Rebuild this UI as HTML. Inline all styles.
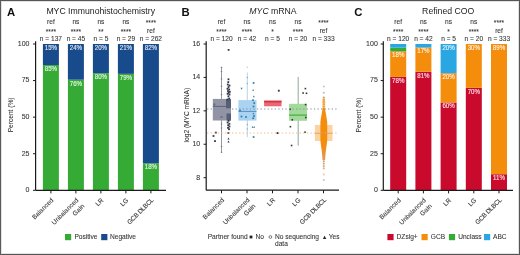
<!DOCTYPE html>
<html><head><meta charset="utf-8"><style>
html,body{margin:0;padding:0;background:#fff;}
body{width:520px;height:255px;overflow:hidden;}
svg{display:block;font-family:"Liberation Sans", sans-serif;will-change:transform;}
</style></head><body>
<svg width="520" height="255" viewBox="0 0 520 255">
<rect x="0" y="0" width="520" height="255" fill="#ffffff"/>
<text x="7.00" y="16.00" font-size="11.3" text-anchor="start" fill="#111111" font-weight="bold">A</text>
<text x="100.70" y="14.00" font-size="8.7" text-anchor="middle" fill="#222222" >MYC Immunohistochemistry</text>
<text x="50.90" y="24.00" font-size="6.6" text-anchor="middle" fill="#353535" stroke="#353535" stroke-width="0.08" >ref</text>
<text x="50.90" y="33.90" font-size="6.6" text-anchor="middle" fill="#353535" stroke="#353535" stroke-width="0.08" >****</text>
<text x="50.90" y="41.00" font-size="6.6" text-anchor="middle" fill="#353535" stroke="#353535" stroke-width="0.08" >n = 137</text>
<text x="75.90" y="24.00" font-size="6.6" text-anchor="middle" fill="#353535" stroke="#353535" stroke-width="0.08" >ns</text>
<text x="75.90" y="33.90" font-size="6.6" text-anchor="middle" fill="#353535" stroke="#353535" stroke-width="0.08" >****</text>
<text x="75.90" y="41.00" font-size="6.6" text-anchor="middle" fill="#353535" stroke="#353535" stroke-width="0.08" >n = 45</text>
<text x="100.90" y="24.00" font-size="6.6" text-anchor="middle" fill="#353535" stroke="#353535" stroke-width="0.08" >ns</text>
<text x="100.90" y="33.90" font-size="6.6" text-anchor="middle" fill="#353535" stroke="#353535" stroke-width="0.08" >**</text>
<text x="100.90" y="41.00" font-size="6.6" text-anchor="middle" fill="#353535" stroke="#353535" stroke-width="0.08" >n = 5</text>
<text x="125.90" y="24.00" font-size="6.6" text-anchor="middle" fill="#353535" stroke="#353535" stroke-width="0.08" >ns</text>
<text x="125.90" y="33.90" font-size="6.6" text-anchor="middle" fill="#353535" stroke="#353535" stroke-width="0.08" >****</text>
<text x="125.90" y="41.00" font-size="6.6" text-anchor="middle" fill="#353535" stroke="#353535" stroke-width="0.08" >n = 29</text>
<text x="150.90" y="25.40" font-size="6.6" text-anchor="middle" fill="#353535" stroke="#353535" stroke-width="0.08" >****</text>
<text x="150.90" y="32.50" font-size="6.6" text-anchor="middle" fill="#353535" stroke="#353535" stroke-width="0.08" >ref</text>
<text x="150.90" y="41.00" font-size="6.6" text-anchor="middle" fill="#353535" stroke="#353535" stroke-width="0.08" >n = 262</text>
<rect x="42.90" y="65.07" width="16.00" height="125.23" fill="#35ab36" />
<text transform="translate(50.90,70.97) scale(0.88,1)" font-size="7" text-anchor="middle" fill="#ffffff" stroke="#ffffff" stroke-width="0.15" opacity="0.88">85%</text>
<rect x="42.90" y="44.00" width="16.00" height="21.07" fill="#184b8c" />
<text transform="translate(50.90,49.90) scale(0.88,1)" font-size="7" text-anchor="middle" fill="#ffffff" stroke="#ffffff" stroke-width="0.15" opacity="0.88">15%</text>
<rect x="67.90" y="79.70" width="16.00" height="110.60" fill="#35ab36" />
<text transform="translate(75.90,85.60) scale(0.88,1)" font-size="7" text-anchor="middle" fill="#ffffff" stroke="#ffffff" stroke-width="0.15" opacity="0.88">76%</text>
<rect x="67.90" y="44.00" width="16.00" height="35.70" fill="#184b8c" />
<text transform="translate(75.90,49.90) scale(0.88,1)" font-size="7" text-anchor="middle" fill="#ffffff" stroke="#ffffff" stroke-width="0.15" opacity="0.88">24%</text>
<rect x="92.90" y="73.26" width="16.00" height="117.04" fill="#35ab36" />
<text transform="translate(100.90,79.16) scale(0.88,1)" font-size="7" text-anchor="middle" fill="#ffffff" stroke="#ffffff" stroke-width="0.15" opacity="0.88">80%</text>
<rect x="92.90" y="44.00" width="16.00" height="29.26" fill="#184b8c" />
<text transform="translate(100.90,49.90) scale(0.88,1)" font-size="7" text-anchor="middle" fill="#ffffff" stroke="#ffffff" stroke-width="0.15" opacity="0.88">20%</text>
<rect x="117.90" y="73.85" width="16.00" height="116.45" fill="#35ab36" />
<text transform="translate(125.90,79.75) scale(0.88,1)" font-size="7" text-anchor="middle" fill="#ffffff" stroke="#ffffff" stroke-width="0.15" opacity="0.88">79%</text>
<rect x="117.90" y="44.00" width="16.00" height="29.85" fill="#184b8c" />
<text transform="translate(125.90,49.90) scale(0.88,1)" font-size="7" text-anchor="middle" fill="#ffffff" stroke="#ffffff" stroke-width="0.15" opacity="0.88">21%</text>
<rect x="142.90" y="163.38" width="16.00" height="26.92" fill="#35ab36" />
<text transform="translate(150.90,169.28) scale(0.88,1)" font-size="7" text-anchor="middle" fill="#ffffff" stroke="#ffffff" stroke-width="0.15" opacity="0.88">18%</text>
<rect x="142.90" y="44.00" width="16.00" height="119.38" fill="#184b8c" />
<text transform="translate(150.90,49.90) scale(0.88,1)" font-size="7" text-anchor="middle" fill="#ffffff" stroke="#ffffff" stroke-width="0.15" opacity="0.88">82%</text>
<line x1="35.60" y1="41.20" x2="35.60" y2="190.30" stroke="#1a1a1a" stroke-width="1.2" />
<line x1="33.00" y1="190.30" x2="35.60" y2="190.30" stroke="#1a1a1a" stroke-width="1.0" />
<text x="29.50" y="192.20" font-size="7" text-anchor="end" fill="#353535" stroke="#353535" stroke-width="0.08" >0</text>
<line x1="33.00" y1="153.73" x2="35.60" y2="153.73" stroke="#1a1a1a" stroke-width="1.0" />
<text x="29.50" y="155.63" font-size="7" text-anchor="end" fill="#353535" stroke="#353535" stroke-width="0.08" >25</text>
<line x1="33.00" y1="117.15" x2="35.60" y2="117.15" stroke="#1a1a1a" stroke-width="1.0" />
<text x="29.50" y="119.05" font-size="7" text-anchor="end" fill="#353535" stroke="#353535" stroke-width="0.08" >50</text>
<line x1="33.00" y1="80.58" x2="35.60" y2="80.58" stroke="#1a1a1a" stroke-width="1.0" />
<text x="29.50" y="82.48" font-size="7" text-anchor="end" fill="#353535" stroke="#353535" stroke-width="0.08" >75</text>
<line x1="33.00" y1="44.00" x2="35.60" y2="44.00" stroke="#1a1a1a" stroke-width="1.0" />
<text x="29.50" y="45.90" font-size="7" text-anchor="end" fill="#353535" stroke="#353535" stroke-width="0.08" >100</text>
<line x1="35.60" y1="190.30" x2="166.00" y2="190.30" stroke="#1a1a1a" stroke-width="1.2" />
<line x1="50.90" y1="190.30" x2="50.90" y2="193.40" stroke="#1a1a1a" stroke-width="1.0" />
<line x1="75.90" y1="190.30" x2="75.90" y2="193.40" stroke="#1a1a1a" stroke-width="1.0" />
<line x1="100.90" y1="190.30" x2="100.90" y2="193.40" stroke="#1a1a1a" stroke-width="1.0" />
<line x1="125.90" y1="190.30" x2="125.90" y2="193.40" stroke="#1a1a1a" stroke-width="1.0" />
<line x1="150.90" y1="190.30" x2="150.90" y2="193.40" stroke="#1a1a1a" stroke-width="1.0" />
<text transform="translate(53.90,200.60) rotate(-45)" font-size="6.5" text-anchor="end" fill="#353535" stroke="#353535" stroke-width="0.08">Balanced</text>
<text transform="translate(78.90,200.60) rotate(-45)" font-size="6.5" text-anchor="end" fill="#353535" stroke="#353535" stroke-width="0.08"><tspan x="0" y="0">Unbalanced</tspan><tspan x="0" y="8.4">Gain</tspan></text>
<text transform="translate(103.90,200.60) rotate(-45)" font-size="6.5" text-anchor="end" fill="#353535" stroke="#353535" stroke-width="0.08">LR</text>
<text transform="translate(128.90,200.60) rotate(-45)" font-size="6.5" text-anchor="end" fill="#353535" stroke="#353535" stroke-width="0.08">LG</text>
<text transform="translate(153.90,200.60) rotate(-45)" font-size="6.5" text-anchor="end" fill="#353535" stroke="#353535" stroke-width="0.08" letter-spacing="-0.3">GCB DLBCL</text>
<text transform="translate(13.40,114.90) rotate(-90)" font-size="6.6" text-anchor="middle" fill="#353535" stroke="#353535" stroke-width="0.08">Percent (%)</text>
<rect x="65.00" y="234.00" width="6.20" height="6.20" fill="#35ab36" />
<text x="74.40" y="239.30" font-size="6.6" text-anchor="start" fill="#353535" stroke="#353535" stroke-width="0.08" >Positive</text>
<rect x="101.20" y="234.00" width="6.20" height="6.20" fill="#184b8c" />
<text x="110.00" y="239.30" font-size="6.6" text-anchor="start" fill="#353535" stroke="#353535" stroke-width="0.08" >Negative</text>
<text x="354.20" y="16.00" font-size="11.3" text-anchor="start" fill="#111111" font-weight="bold">C</text>
<text x="448.20" y="14.00" font-size="8.7" text-anchor="middle" fill="#222222" >Refined COO</text>
<text x="398.20" y="24.00" font-size="6.6" text-anchor="middle" fill="#353535" stroke="#353535" stroke-width="0.08" >ref</text>
<text x="398.20" y="33.90" font-size="6.6" text-anchor="middle" fill="#353535" stroke="#353535" stroke-width="0.08" >****</text>
<text x="398.20" y="41.00" font-size="6.6" text-anchor="middle" fill="#353535" stroke="#353535" stroke-width="0.08" >n = 120</text>
<text x="423.40" y="24.00" font-size="6.6" text-anchor="middle" fill="#353535" stroke="#353535" stroke-width="0.08" >ns</text>
<text x="423.40" y="33.90" font-size="6.6" text-anchor="middle" fill="#353535" stroke="#353535" stroke-width="0.08" >****</text>
<text x="423.40" y="41.00" font-size="6.6" text-anchor="middle" fill="#353535" stroke="#353535" stroke-width="0.08" >n = 42</text>
<text x="448.60" y="24.00" font-size="6.6" text-anchor="middle" fill="#353535" stroke="#353535" stroke-width="0.08" >ns</text>
<text x="448.60" y="33.90" font-size="6.6" text-anchor="middle" fill="#353535" stroke="#353535" stroke-width="0.08" >*</text>
<text x="448.60" y="41.00" font-size="6.6" text-anchor="middle" fill="#353535" stroke="#353535" stroke-width="0.08" >n = 5</text>
<text x="473.80" y="24.00" font-size="6.6" text-anchor="middle" fill="#353535" stroke="#353535" stroke-width="0.08" >ns</text>
<text x="473.80" y="33.90" font-size="6.6" text-anchor="middle" fill="#353535" stroke="#353535" stroke-width="0.08" >****</text>
<text x="473.80" y="41.00" font-size="6.6" text-anchor="middle" fill="#353535" stroke="#353535" stroke-width="0.08" >n = 20</text>
<text x="499.00" y="25.40" font-size="6.6" text-anchor="middle" fill="#353535" stroke="#353535" stroke-width="0.08" >****</text>
<text x="499.00" y="32.50" font-size="6.6" text-anchor="middle" fill="#353535" stroke="#353535" stroke-width="0.08" >ref</text>
<text x="499.00" y="41.00" font-size="6.6" text-anchor="middle" fill="#353535" stroke="#353535" stroke-width="0.08" >n = 333</text>
<rect x="390.20" y="76.92" width="16.00" height="113.38" fill="#c90a2c" />
<text transform="translate(398.20,82.82) scale(0.88,1)" font-size="7" text-anchor="middle" fill="#ffffff" stroke="#ffffff" stroke-width="0.15" opacity="0.88">78%</text>
<rect x="390.20" y="51.31" width="16.00" height="25.60" fill="#f48c0c" />
<text transform="translate(398.20,57.21) scale(0.88,1)" font-size="7" text-anchor="middle" fill="#ffffff" stroke="#ffffff" stroke-width="0.15" opacity="0.88">18%</text>
<rect x="390.20" y="47.66" width="16.00" height="3.66" fill="#35ab36" />
<rect x="390.20" y="44.00" width="16.00" height="3.66" fill="#2aa6e2" />
<rect x="415.40" y="71.80" width="16.00" height="118.50" fill="#c90a2c" />
<text transform="translate(423.40,77.70) scale(0.88,1)" font-size="7" text-anchor="middle" fill="#ffffff" stroke="#ffffff" stroke-width="0.15" opacity="0.88">81%</text>
<rect x="415.40" y="47.51" width="16.00" height="24.29" fill="#f48c0c" />
<text transform="translate(423.40,53.41) scale(0.88,1)" font-size="7" text-anchor="middle" fill="#ffffff" stroke="#ffffff" stroke-width="0.15" opacity="0.88">17%</text>
<rect x="415.40" y="44.00" width="16.00" height="3.51" fill="#2aa6e2" />
<rect x="440.60" y="102.52" width="16.00" height="87.78" fill="#c90a2c" />
<text transform="translate(448.60,108.42) scale(0.88,1)" font-size="7" text-anchor="middle" fill="#ffffff" stroke="#ffffff" stroke-width="0.15" opacity="0.88">60%</text>
<rect x="440.60" y="73.26" width="16.00" height="29.26" fill="#f48c0c" />
<text transform="translate(448.60,79.16) scale(0.88,1)" font-size="7" text-anchor="middle" fill="#ffffff" stroke="#ffffff" stroke-width="0.15" opacity="0.88">20%</text>
<rect x="440.60" y="44.00" width="16.00" height="29.26" fill="#2aa6e2" />
<text transform="translate(448.60,49.90) scale(0.88,1)" font-size="7" text-anchor="middle" fill="#ffffff" stroke="#ffffff" stroke-width="0.15" opacity="0.88">20%</text>
<rect x="465.80" y="87.89" width="16.00" height="102.41" fill="#c90a2c" />
<text transform="translate(473.80,93.79) scale(0.88,1)" font-size="7" text-anchor="middle" fill="#ffffff" stroke="#ffffff" stroke-width="0.15" opacity="0.88">70%</text>
<rect x="465.80" y="44.00" width="16.00" height="43.89" fill="#f48c0c" />
<text transform="translate(473.80,49.90) scale(0.88,1)" font-size="7" text-anchor="middle" fill="#ffffff" stroke="#ffffff" stroke-width="0.15" opacity="0.88">30%</text>
<rect x="491.00" y="174.21" width="16.00" height="16.09" fill="#c90a2c" />
<text transform="translate(499.00,180.11) scale(0.88,1)" font-size="7" text-anchor="middle" fill="#ffffff" stroke="#ffffff" stroke-width="0.15" opacity="0.88">11%</text>
<rect x="491.00" y="44.00" width="16.00" height="130.21" fill="#f48c0c" />
<text transform="translate(499.00,49.90) scale(0.88,1)" font-size="7" text-anchor="middle" fill="#ffffff" stroke="#ffffff" stroke-width="0.15" opacity="0.88">89%</text>
<line x1="383.30" y1="41.20" x2="383.30" y2="190.30" stroke="#1a1a1a" stroke-width="1.2" />
<line x1="380.70" y1="190.30" x2="383.30" y2="190.30" stroke="#1a1a1a" stroke-width="1.0" />
<text x="377.80" y="192.20" font-size="7" text-anchor="end" fill="#353535" stroke="#353535" stroke-width="0.08" >0</text>
<line x1="380.70" y1="153.73" x2="383.30" y2="153.73" stroke="#1a1a1a" stroke-width="1.0" />
<text x="377.80" y="155.63" font-size="7" text-anchor="end" fill="#353535" stroke="#353535" stroke-width="0.08" >25</text>
<line x1="380.70" y1="117.15" x2="383.30" y2="117.15" stroke="#1a1a1a" stroke-width="1.0" />
<text x="377.80" y="119.05" font-size="7" text-anchor="end" fill="#353535" stroke="#353535" stroke-width="0.08" >50</text>
<line x1="380.70" y1="80.58" x2="383.30" y2="80.58" stroke="#1a1a1a" stroke-width="1.0" />
<text x="377.80" y="82.48" font-size="7" text-anchor="end" fill="#353535" stroke="#353535" stroke-width="0.08" >75</text>
<line x1="380.70" y1="44.00" x2="383.30" y2="44.00" stroke="#1a1a1a" stroke-width="1.0" />
<text x="377.80" y="45.90" font-size="7" text-anchor="end" fill="#353535" stroke="#353535" stroke-width="0.08" >100</text>
<line x1="383.30" y1="190.30" x2="513.00" y2="190.30" stroke="#1a1a1a" stroke-width="1.2" />
<line x1="398.20" y1="190.30" x2="398.20" y2="193.40" stroke="#1a1a1a" stroke-width="1.0" />
<line x1="423.40" y1="190.30" x2="423.40" y2="193.40" stroke="#1a1a1a" stroke-width="1.0" />
<line x1="448.60" y1="190.30" x2="448.60" y2="193.40" stroke="#1a1a1a" stroke-width="1.0" />
<line x1="473.80" y1="190.30" x2="473.80" y2="193.40" stroke="#1a1a1a" stroke-width="1.0" />
<line x1="499.00" y1="190.30" x2="499.00" y2="193.40" stroke="#1a1a1a" stroke-width="1.0" />
<text transform="translate(401.20,200.60) rotate(-45)" font-size="6.5" text-anchor="end" fill="#353535" stroke="#353535" stroke-width="0.08">Balanced</text>
<text transform="translate(426.40,200.60) rotate(-45)" font-size="6.5" text-anchor="end" fill="#353535" stroke="#353535" stroke-width="0.08"><tspan x="0" y="0">Unbalanced</tspan><tspan x="0" y="8.4">Gain</tspan></text>
<text transform="translate(451.60,200.60) rotate(-45)" font-size="6.5" text-anchor="end" fill="#353535" stroke="#353535" stroke-width="0.08">LR</text>
<text transform="translate(476.80,200.60) rotate(-45)" font-size="6.5" text-anchor="end" fill="#353535" stroke="#353535" stroke-width="0.08">LG</text>
<text transform="translate(502.00,200.60) rotate(-45)" font-size="6.5" text-anchor="end" fill="#353535" stroke="#353535" stroke-width="0.08" letter-spacing="-0.3">GCB DLBCL</text>
<text transform="translate(361.40,115.00) rotate(-90)" font-size="6.6" text-anchor="middle" fill="#353535" stroke="#353535" stroke-width="0.08">Percent (%)</text>
<rect x="387.40" y="234.00" width="6.20" height="6.20" fill="#c90a2c" />
<text x="396.60" y="239.30" font-size="6.6" text-anchor="start" fill="#353535" stroke="#353535" stroke-width="0.08" >DZsig+</text>
<rect x="421.50" y="234.00" width="6.20" height="6.20" fill="#f48c0c" />
<text x="430.80" y="239.30" font-size="6.6" text-anchor="start" fill="#353535" stroke="#353535" stroke-width="0.08" >GCB</text>
<rect x="448.90" y="234.00" width="6.20" height="6.20" fill="#35ab36" />
<text x="458.20" y="239.30" font-size="6.6" text-anchor="start" fill="#353535" stroke="#353535" stroke-width="0.08" >Unclass</text>
<rect x="484.00" y="234.00" width="6.20" height="6.20" fill="#2aa6e2" />
<text x="493.00" y="239.30" font-size="6.6" text-anchor="start" fill="#353535" stroke="#353535" stroke-width="0.08" >ABC</text>
<text x="181.40" y="16.00" font-size="11.3" text-anchor="start" fill="#111111" font-weight="bold">B</text>
<text x="273" y="14" font-size="8.7" text-anchor="middle" fill="#222222"><tspan font-style="italic">MYC</tspan> mRNA</text>
<text x="221.50" y="24.00" font-size="6.6" text-anchor="middle" fill="#353535" stroke="#353535" stroke-width="0.08" >ref</text>
<text x="221.50" y="33.90" font-size="6.6" text-anchor="middle" fill="#353535" stroke="#353535" stroke-width="0.08" >****</text>
<text x="221.50" y="41.00" font-size="6.6" text-anchor="middle" fill="#353535" stroke="#353535" stroke-width="0.08" >n = 120</text>
<text x="247.00" y="24.00" font-size="6.6" text-anchor="middle" fill="#353535" stroke="#353535" stroke-width="0.08" >ns</text>
<text x="247.00" y="33.90" font-size="6.6" text-anchor="middle" fill="#353535" stroke="#353535" stroke-width="0.08" >****</text>
<text x="247.00" y="41.00" font-size="6.6" text-anchor="middle" fill="#353535" stroke="#353535" stroke-width="0.08" >n = 42</text>
<text x="272.50" y="24.00" font-size="6.6" text-anchor="middle" fill="#353535" stroke="#353535" stroke-width="0.08" >ns</text>
<text x="272.50" y="33.90" font-size="6.6" text-anchor="middle" fill="#353535" stroke="#353535" stroke-width="0.08" >*</text>
<text x="272.50" y="41.00" font-size="6.6" text-anchor="middle" fill="#353535" stroke="#353535" stroke-width="0.08" >n = 5</text>
<text x="298.00" y="24.00" font-size="6.6" text-anchor="middle" fill="#353535" stroke="#353535" stroke-width="0.08" >ns</text>
<text x="298.00" y="33.90" font-size="6.6" text-anchor="middle" fill="#353535" stroke="#353535" stroke-width="0.08" >****</text>
<text x="298.00" y="41.00" font-size="6.6" text-anchor="middle" fill="#353535" stroke="#353535" stroke-width="0.08" >n = 20</text>
<text x="323.50" y="25.40" font-size="6.6" text-anchor="middle" fill="#353535" stroke="#353535" stroke-width="0.08" >****</text>
<text x="323.50" y="32.50" font-size="6.6" text-anchor="middle" fill="#353535" stroke="#353535" stroke-width="0.08" >ref</text>
<text x="323.50" y="41.00" font-size="6.6" text-anchor="middle" fill="#353535" stroke="#353535" stroke-width="0.08" >n = 333</text>
<line x1="206.20" y1="41.20" x2="206.20" y2="190.20" stroke="#1a1a1a" stroke-width="1.2" />
<line x1="203.60" y1="177.68" x2="206.20" y2="177.68" stroke="#1a1a1a" stroke-width="1.0" />
<text x="200.20" y="179.58" font-size="7" text-anchor="end" fill="#353535" stroke="#353535" stroke-width="0.08" >8</text>
<line x1="203.60" y1="144.26" x2="206.20" y2="144.26" stroke="#1a1a1a" stroke-width="1.0" />
<text x="200.20" y="146.16" font-size="7" text-anchor="end" fill="#353535" stroke="#353535" stroke-width="0.08" >10</text>
<line x1="203.60" y1="110.84" x2="206.20" y2="110.84" stroke="#1a1a1a" stroke-width="1.0" />
<text x="200.20" y="112.74" font-size="7" text-anchor="end" fill="#353535" stroke="#353535" stroke-width="0.08" >12</text>
<line x1="203.60" y1="77.42" x2="206.20" y2="77.42" stroke="#1a1a1a" stroke-width="1.0" />
<text x="200.20" y="79.32" font-size="7" text-anchor="end" fill="#353535" stroke="#353535" stroke-width="0.08" >14</text>
<line x1="203.60" y1="44.00" x2="206.20" y2="44.00" stroke="#1a1a1a" stroke-width="1.0" />
<text x="200.20" y="45.90" font-size="7" text-anchor="end" fill="#353535" stroke="#353535" stroke-width="0.08" >16</text>
<line x1="206.10" y1="190.20" x2="339.00" y2="190.20" stroke="#1a1a1a" stroke-width="1.2" />
<line x1="221.50" y1="190.20" x2="221.50" y2="193.30" stroke="#1a1a1a" stroke-width="1.0" />
<line x1="247.00" y1="190.20" x2="247.00" y2="193.30" stroke="#1a1a1a" stroke-width="1.0" />
<line x1="272.50" y1="190.20" x2="272.50" y2="193.30" stroke="#1a1a1a" stroke-width="1.0" />
<line x1="298.00" y1="190.20" x2="298.00" y2="193.30" stroke="#1a1a1a" stroke-width="1.0" />
<line x1="323.50" y1="190.20" x2="323.50" y2="193.30" stroke="#1a1a1a" stroke-width="1.0" />
<text transform="translate(224.50,200.50) rotate(-45)" font-size="6.5" text-anchor="end" fill="#353535" stroke="#353535" stroke-width="0.08">Balanced</text>
<text transform="translate(250.00,200.50) rotate(-45)" font-size="6.5" text-anchor="end" fill="#353535" stroke="#353535" stroke-width="0.08"><tspan x="0" y="0">Unbalanced</tspan><tspan x="0" y="8.4">Gain</tspan></text>
<text transform="translate(275.50,200.50) rotate(-45)" font-size="6.5" text-anchor="end" fill="#353535" stroke="#353535" stroke-width="0.08">LR</text>
<text transform="translate(301.00,200.50) rotate(-45)" font-size="6.5" text-anchor="end" fill="#353535" stroke="#353535" stroke-width="0.08">LG</text>
<text transform="translate(326.50,200.50) rotate(-45)" font-size="6.5" text-anchor="end" fill="#353535" stroke="#353535" stroke-width="0.08" letter-spacing="-0.3">GCB DLBCL</text>
<text transform="translate(188.80,115.10) rotate(-90)" font-size="6.6" text-anchor="middle" fill="#353535" stroke="#353535" stroke-width="0.08">log2 (MYC mRNA)</text>
<line x1="221.50" y1="66.80" x2="221.50" y2="152.70" stroke="#8a8d98" stroke-width="0.9" />
<circle cx="221.50" cy="67.50" r="0.80" fill="#7a7d88"/>
<circle cx="221.50" cy="71.50" r="0.80" fill="#7a7d88"/>
<circle cx="221.50" cy="79.00" r="0.80" fill="#7a7d88"/>
<circle cx="221.50" cy="86.30" r="0.80" fill="#7a7d88"/>
<circle cx="221.50" cy="94.60" r="0.80" fill="#7a7d88"/>
<circle cx="221.50" cy="124.00" r="0.80" fill="#7a7d88"/>
<circle cx="221.50" cy="128.00" r="0.80" fill="#7a7d88"/>
<circle cx="221.50" cy="146.50" r="0.80" fill="#7a7d88"/>
<circle cx="221.50" cy="152.30" r="0.80" fill="#7a7d88"/>
<rect x="212.80" y="98.90" width="18.20" height="21.60" fill="#9294a6" />
<rect x="226.00" y="99.30" width="5.00" height="9.00" fill="#4c566c" opacity="0.85"/>
<rect x="226.50" y="113.50" width="4.50" height="7.00" fill="#4c566c" opacity="0.85"/>
<rect x="213.50" y="103.50" width="1.80" height="2.00" fill="#4c566c" opacity="0.7"/>
<rect x="220.00" y="116.00" width="3.00" height="2.00" fill="#6c7084" opacity="0.7"/>
<line x1="212.80" y1="106.40" x2="226.00" y2="106.40" stroke="#505670" stroke-width="0.8" />
<rect x="227.70" y="49.00" width="1.80" height="1.80" fill="#2f3749"/>
<rect x="227.60" y="78.40" width="1.80" height="1.80" fill="#2f3749"/>
<rect x="227.40" y="81.20" width="1.80" height="1.80" fill="#2f3749"/>
<rect x="226.90" y="83.60" width="1.80" height="1.80" fill="#2f3749"/>
<rect x="228.60" y="84.60" width="1.80" height="1.80" fill="#2f3749"/>
<rect x="227.60" y="86.10" width="1.80" height="1.80" fill="#2f3749"/>
<rect x="226.60" y="87.90" width="1.80" height="1.80" fill="#2f3749"/>
<rect x="228.30" y="88.60" width="1.80" height="1.80" fill="#2f3749"/>
<rect x="227.10" y="90.10" width="1.80" height="1.80" fill="#2f3749"/>
<rect x="228.90" y="90.90" width="1.80" height="1.80" fill="#2f3749"/>
<rect x="227.70" y="91.90" width="1.80" height="1.80" fill="#2f3749"/>
<rect x="226.70" y="92.90" width="1.80" height="1.80" fill="#2f3749"/>
<rect x="228.60" y="93.60" width="1.80" height="1.80" fill="#2f3749"/>
<rect x="227.50" y="95.40" width="1.80" height="1.80" fill="#2f3749"/>
<rect x="228.30" y="97.60" width="1.80" height="1.80" fill="#2f3749"/>
<rect x="226.70" y="98.60" width="1.80" height="1.80" fill="#2f3749"/>
<rect x="227.70" y="119.90" width="1.80" height="1.80" fill="#2f3749"/>
<rect x="226.70" y="121.60" width="1.80" height="1.80" fill="#2f3749"/>
<rect x="228.50" y="122.90" width="1.80" height="1.80" fill="#2f3749"/>
<rect x="227.30" y="124.30" width="1.80" height="1.80" fill="#2f3749"/>
<rect x="228.60" y="125.60" width="1.80" height="1.80" fill="#2f3749"/>
<rect x="227.10" y="126.90" width="1.80" height="1.80" fill="#2f3749"/>
<rect x="228.10" y="128.30" width="1.80" height="1.80" fill="#2f3749"/>
<rect x="227.50" y="132.10" width="1.80" height="1.80" fill="#2f3749"/>
<path d="M227.42,139.50 L228.50,137.52 L229.58,139.50 Z" fill="#2f3749"/>
<path d="M227.42,142.50 L228.50,140.52 L229.58,142.50 Z" fill="#2f3749"/>
<rect x="214.90" y="131.70" width="1.80" height="1.80" fill="#2f3749"/>
<rect x="212.60" y="135.10" width="1.80" height="1.80" fill="#2f3749"/>
<rect x="214.10" y="140.20" width="1.80" height="1.80" fill="#2f3749"/>
<line x1="247.30" y1="72.50" x2="247.30" y2="137.20" stroke="#a4c8e2" stroke-width="0.8" />
<circle cx="247.30" cy="67.20" r="0.80" fill="#c0ccd8"/>
<circle cx="247.30" cy="77.50" r="0.75" fill="#86b2cc"/>
<circle cx="247.30" cy="83.50" r="0.75" fill="#86b2cc"/>
<circle cx="247.30" cy="124.50" r="0.75" fill="#86b2cc"/>
<circle cx="247.30" cy="129.00" r="0.75" fill="#86b2cc"/>
<rect x="238.40" y="100.10" width="18.10" height="20.50" fill="#a9d3f1" />
<line x1="238.40" y1="111.40" x2="256.50" y2="111.40" stroke="#3a78b8" stroke-width="0.75" />
<path d="M240.58,87.85 L241.60,89.72 L242.62,87.85 Z" fill="#2f7aa8"/>
<rect x="252.75" y="82.15" width="1.70" height="1.70" fill="#2f7aa8"/>
<path d="M252.18,90.85 L253.20,88.98 L254.22,90.85 Z" fill="#2f7aa8"/>
<path d="M252.78,97.35 L253.80,95.48 L254.82,97.35 Z" fill="#2f7aa8"/>
<rect x="252.15" y="99.35" width="1.70" height="1.70" fill="#2f7aa8"/>
<rect x="253.35" y="102.15" width="1.70" height="1.70" fill="#2f7aa8"/>
<rect x="252.65" y="105.65" width="1.70" height="1.70" fill="#2f7aa8"/>
<rect x="239.15" y="109.65" width="1.70" height="1.70" fill="#2f7aa8"/>
<path d="M252.38,114.35 L253.40,112.48 L254.42,114.35 Z" fill="#2f7aa8"/>
<rect x="253.15" y="115.15" width="1.70" height="1.70" fill="#2f7aa8"/>
<rect x="252.35" y="117.35" width="1.70" height="1.70" fill="#2f7aa8"/>
<rect x="240.65" y="115.65" width="1.70" height="1.70" fill="#2f7aa8"/>
<rect x="245.15" y="116.15" width="1.70" height="1.70" fill="#2f7aa8"/>
<path d="M251.58,127.75 L252.60,125.88 L253.62,127.75 Z" fill="#2f7aa8"/>
<path d="M253.18,127.75 L254.20,125.88 L255.22,127.75 Z" fill="#2f7aa8"/>
<rect x="252.75" y="136.15" width="1.70" height="1.70" fill="#2f7aa8"/>
<rect x="264.10" y="100.70" width="17.40" height="5.60" fill="#ea6874" />
<rect x="264.10" y="100.70" width="17.40" height="1.80" fill="#d43444" />
<rect x="277.90" y="89.80" width="1.80" height="1.80" fill="#3a2a2e"/>
<rect x="276.65" y="132.15" width="1.90" height="1.90" fill="#3a2a2e"/>
<line x1="298.20" y1="76.90" x2="298.20" y2="145.70" stroke="#7f9a80" stroke-width="0.85" />
<rect x="289.10" y="103.80" width="17.90" height="17.00" fill="#a4d99c" />
<line x1="289.10" y1="115.10" x2="307.00" y2="115.10" stroke="#3aa935" stroke-width="1.1" />
<rect x="304.60" y="87.80" width="1.60" height="1.60" fill="#2f3a30"/>
<rect x="302.30" y="92.20" width="1.60" height="1.60" fill="#2f3a30"/>
<rect x="305.70" y="92.50" width="1.60" height="1.60" fill="#2f3a30"/>
<rect x="304.80" y="103.80" width="1.60" height="1.60" fill="#2f3a30"/>
<rect x="289.40" y="108.50" width="1.60" height="1.60" fill="#2f3a30"/>
<rect x="291.50" y="119.00" width="1.60" height="1.60" fill="#2f3a30"/>
<rect x="289.60" y="125.90" width="1.60" height="1.60" fill="#2f3a30"/>
<rect x="304.20" y="131.40" width="1.60" height="1.60" fill="#2f3a30"/>
<rect x="290.80" y="144.70" width="1.60" height="1.60" fill="#2f3a30"/>
<rect x="305.00" y="116.70" width="1.60" height="1.60" fill="#2f3a30"/>
<rect x="314.90" y="124.90" width="17.60" height="16.10" fill="#fbd3a2" />
<circle cx="323.80" cy="100.00" r="1.40" fill="#f5a645"/>
<circle cx="323.80" cy="102.20" r="1.40" fill="#f5a645"/>
<circle cx="323.80" cy="104.40" r="1.40" fill="#f5a645"/>
<circle cx="323.80" cy="106.60" r="1.40" fill="#f5a645"/>
<circle cx="323.80" cy="108.80" r="1.40" fill="#f5a645"/>
<defs><linearGradient id="gcbg" gradientUnits="userSpaceOnUse" x1="0" y1="107" x2="0" y2="160"><stop offset="0" stop-color="#f48c0c"/><stop offset="0.72" stop-color="#f48c0c"/><stop offset="1" stop-color="#e09a5a"/></linearGradient></defs>
<path d="M323.8,107.5 C325.0,108 325.3,110 325.6,112 C326.2,115 326.8,119 327.2,122 L327.2,140 C326.9,144 326.3,147 326.0,150 C325.6,153 325.3,156 325.1,160 L322.5,160 C322.3,156 322.0,153 321.6,150 C321.3,147 320.7,144 320.4,140 L320.4,122 C320.8,119 321.4,115 322.0,112 C322.3,110 322.6,108 323.8,107.5 Z" fill="url(#gcbg)"/>
<circle cx="323.80" cy="86.50" r="1.05" fill="#c8c4cc"/>
<circle cx="323.80" cy="92.80" r="1.05" fill="#c0bcc0"/>
<circle cx="323.80" cy="97.60" r="1.05" fill="#e39444"/>
<circle cx="323.80" cy="161.20" r="1.05" fill="#d89a68"/>
<circle cx="323.80" cy="163.60" r="1.05" fill="#d89c6c"/>
<circle cx="323.80" cy="166.00" r="1.05" fill="#dca478"/>
<circle cx="323.80" cy="168.40" r="1.05" fill="#e2b08c"/>
<circle cx="323.80" cy="174.40" r="1.05" fill="#eec8b8"/>
<circle cx="323.80" cy="180.00" r="1.05" fill="#c6c4cc"/>
<line x1="207.1" y1="109.0" x2="338" y2="109.0" stroke="#8090a4" stroke-width="1.2" stroke-dasharray="1.3 2.26"/>
<line x1="207.1" y1="133.0" x2="338" y2="133.0" stroke="#f0b888" stroke-width="1.1" stroke-dasharray="1.3 2.26"/>
<line x1="314.90" y1="133.30" x2="332.50" y2="133.30" stroke="#d89048" stroke-width="0.6" />
<text x="207.70" y="238.80" font-size="6.6" text-anchor="start" fill="#353535" stroke="#353535" stroke-width="0.08" >Partner found</text>
<rect x="249.60" y="235.60" width="2.80" height="2.80" fill="#222" />
<text x="255.40" y="238.80" font-size="6.6" text-anchor="start" fill="#353535" stroke="#353535" stroke-width="0.08" >No</text>
<circle cx="270.4" cy="237" r="1.4" fill="none" stroke="#444" stroke-width="0.7"/>
<text x="275.00" y="238.80" font-size="6.6" text-anchor="start" fill="#353535" stroke="#353535" stroke-width="0.08" >No sequencing</text>
<text x="275.00" y="245.80" font-size="6.6" text-anchor="start" fill="#353535" stroke="#353535" stroke-width="0.08" >data</text>
<path d="M322.9,239.0 L324.6,235.8 L326.3,239.0 Z" fill="#222"/>
<text x="328.80" y="238.80" font-size="6.6" text-anchor="start" fill="#353535" stroke="#353535" stroke-width="0.08" >Yes</text>
<rect x="1" y="1" width="518" height="1" fill="#e2e2e2"/>
<rect x="1" y="253" width="518" height="1" fill="#e2e2e2"/>
<rect x="1" y="1" width="1" height="253" fill="#e2e2e2"/>
<rect x="518" y="1" width="1" height="253" fill="#e2e2e2"/>
<rect x="0" y="0" width="520" height="1" fill="#555555"/>
<rect x="0" y="254" width="520" height="1" fill="#555555"/>
<rect x="0" y="0" width="1" height="255" fill="#5a5a5a"/>
<rect x="519" y="0" width="1" height="255" fill="#555555"/>
</svg>
</body></html>
